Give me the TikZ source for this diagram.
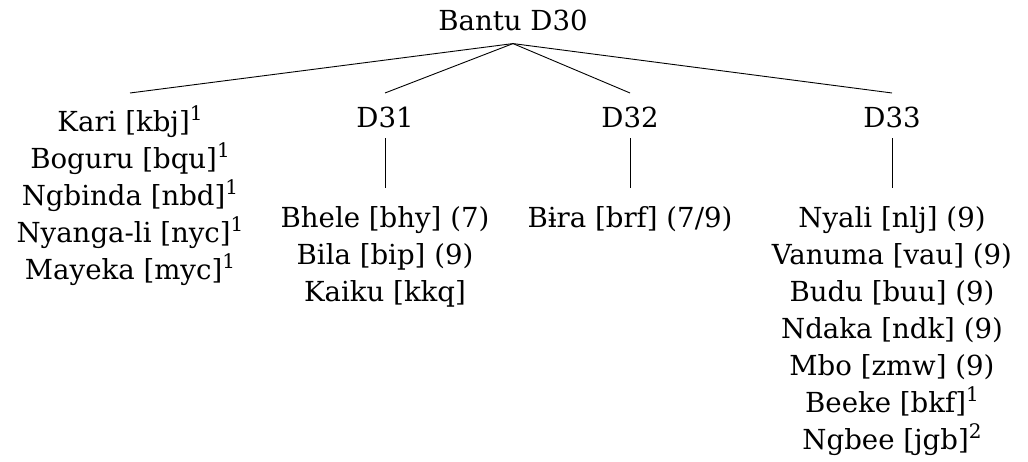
\documentclass[tikz,border=0pt]{standalone}
\usepackage{fontspec}
\setmainfont{DejaVu Serif}
\newcommand\fnmark[1]{\raisebox{11pt}{\fontsize{20}{20}\selectfont #1}}
\begin{document}
\begin{tikzpicture}[x=1pt,y=1pt,
  every node/.style={font=\fontsize{27.6}{37}\selectfont, align=center, inner xsep=0pt},
  rootnode/.style={anchor=base, inner ysep=12pt},
  groupnode/.style={anchor=north, text height=23pt, text depth=0pt, inner ysep=11pt},
  listtop/.style={anchor=north, inner ysep=12.5pt},
  leaflist/.style={anchor=north, inner ysep=18pt},
  branch/.style={draw=black, line width=0.9pt}]
\useasboundingbox (0,0) rectangle (1028,462);

\node[rootnode] (root) at (513,431) {Bantu D30};

\node[listtop] (left) at (130,369) {Kari [kbj]\fnmark{1}\\Boguru [bqu]\fnmark{1}\\Ngbinda [nbd]\fnmark{1}\\Nyanga-li [nyc]\fnmark{1}\\Mayeka [myc]\fnmark{1}};
\node[groupnode] (d31) at (385,369) {D31};
\node[groupnode] (d32) at (630,369) {D32};
\node[groupnode] (d33) at (892,369) {D33};

\node[leaflist] (l31) at (385,274) {Bhele [bhy] (7)\\Bila [bip] (9)\\Kaiku [kkq]};
\node[leaflist] (l32) at (630,274) {Bɨra [brf] (7/9)};
\node[leaflist] (l33) at (892,274) {Nyali [nlj] (9)\\Vanuma [vau] (9)\\Budu [buu] (9)\\Ndaka [ndk] (9)\\Mbo [zmw] (9)\\Beeke [bkf]\fnmark{1}\\Ngbee [jgb]\fnmark{2}};

\draw[branch] (root.south) -- (left.north);
\draw[branch] (root.south) -- (d31.north);
\draw[branch] (root.south) -- (d32.north);
\draw[branch] (root.south) -- (d33.north);
\draw[branch] (d31.south) -- (l31.north);
\draw[branch] (d32.south) -- (l32.north);
\draw[branch] (d33.south) -- (l33.north);
\end{tikzpicture}
\end{document}
